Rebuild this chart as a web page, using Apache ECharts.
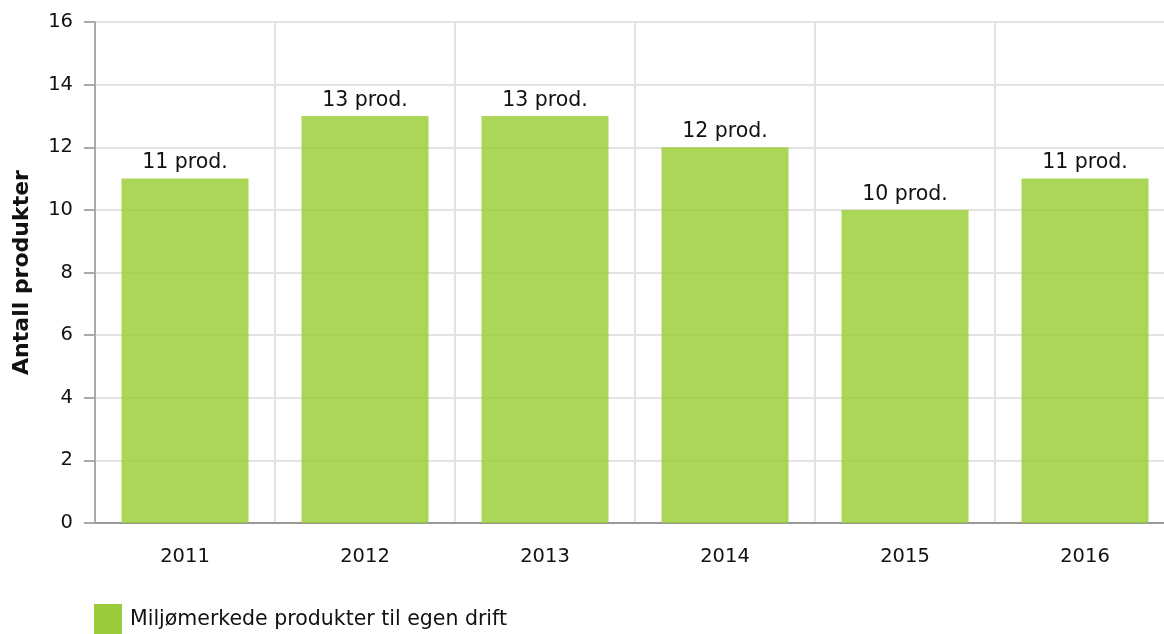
<!DOCTYPE html>
<html>
<head>
<meta charset="utf-8">
<script src="https://cdn.jsdelivr.net/npm/echarts@6/dist/echarts.min.js"></script>
<style>
  html, body { margin: 0; padding: 0; background: #fff; }
  #chart { width: 1164px; height: 634px; }
</style>
</head>
<body>
<div id="chart"></div>
<script>
// kategorier og verdier
var years = ['2011', '2012', '2013', '2014', '2015', '2016'];
var produkter = [11, 13, 13, 12, 10, 11];
var seriesName = 'Miljømerkede produkter til egen drift';
var yTicks = [0, 2, 4, 6, 8, 10, 12, 14, 16];

var chart = echarts.init(document.getElementById('chart'));

var option = {
  animation: false,
  textStyle: { fontFamily: 'DejaVu Sans' },
  grid: { left: 95, right: -11, top: 22, bottom: 111, outerBoundsMode: 'none', containLabel: false },
  legend: {
    left: 89, top: 599,
    itemWidth: 28, itemHeight: 32, itemGap: 8,
    icon: 'rect',
    textStyle: { fontSize: 20.5, color: '#111', fontFamily: 'DejaVu Sans', padding: [0, 0, 0, 3] },
    data: [{ name: seriesName, itemStyle: { color: '#9BCB3C' } }]
  },
  xAxis: {
    type: 'category',
    data: years,
    axisLine: { lineStyle: { color: '#999', width: 2 } },
    axisTick: { alignWithLabel: true, length: 9, lineStyle: { color: '#aaa', width: 2 } },
    axisLabel: { fontSize: 19.5, color: '#111', margin: 24 },
    splitLine: { show: true, lineStyle: { color: '#e3e3e3', width: 2 } }
  },
  yAxis: {
    type: 'value',
    min: yTicks[0], max: yTicks[yTicks.length - 1], interval: 2,
    name: 'Antall produkter',
    nameLocation: 'middle',
    nameGap: 62,
    nameTextStyle: { fontSize: 22, fontWeight: 'bold', color: '#111' },
    axisLine: { show: true, lineStyle: { color: '#aaa', width: 2 } },
    axisTick: { show: true, length: 11, lineStyle: { color: '#aaa', width: 2 } },
    axisLabel: { fontSize: 19.5, color: '#111', margin: 22 },
    splitLine: { lineStyle: { color: '#e3e3e3', width: 2 } }
  },
  series: [{
    name: seriesName,
    type: 'bar',
    data: produkter,
    barWidth: 127,
    itemStyle: { color: 'rgba(154,205,50,0.82)' },
    label: {
      show: true, position: 'top', distance: 5,
      fontSize: 20.5, color: '#111',
      formatter: function (p) { return p.value + ' prod.'; }
    }
  }]
};

chart.setOption(option);
</script>
</body>
</html>
